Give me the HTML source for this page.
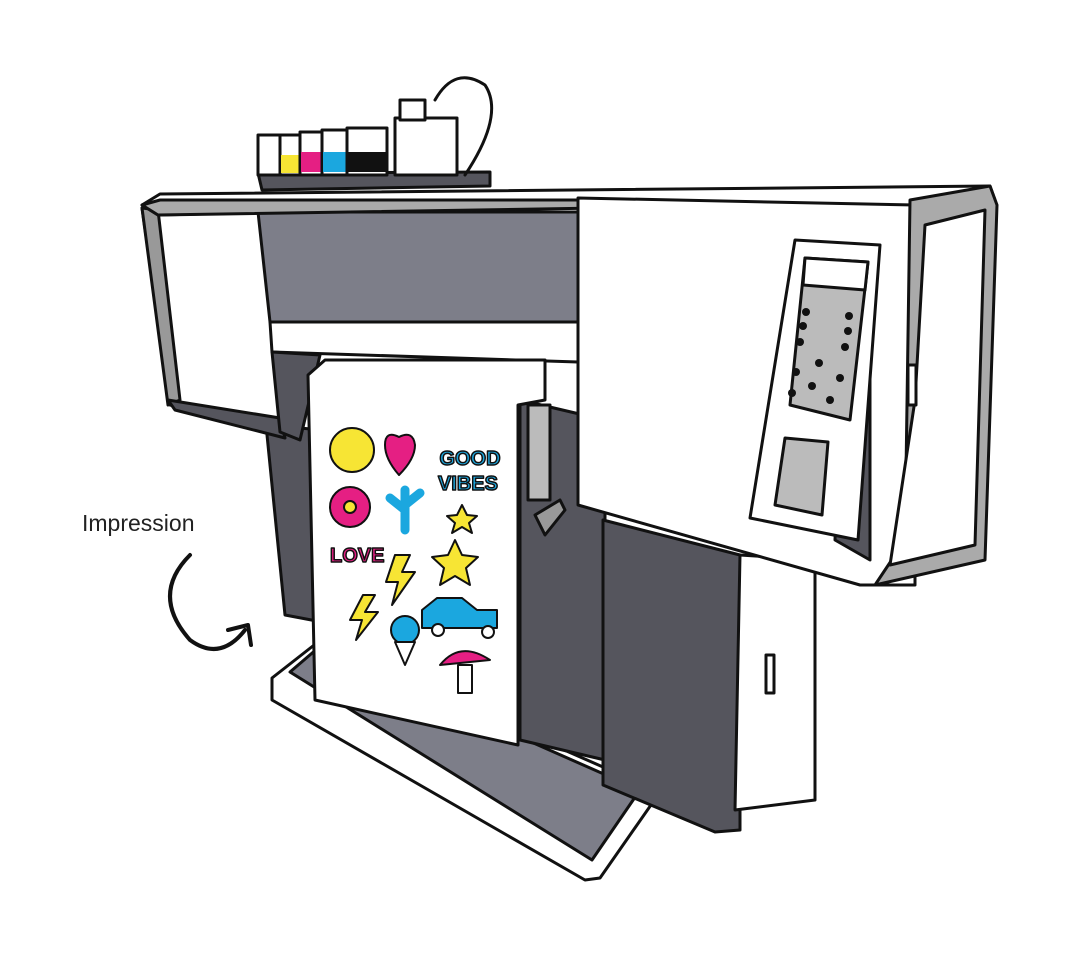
<!DOCTYPE html>
<html><head><style>body{margin:0;background:#fff}svg{display:block}</style></head><body>
<svg width="1082" height="959" viewBox="0 0 1082 959" xmlns="http://www.w3.org/2000/svg" stroke="#111" stroke-width="3" stroke-linejoin="round" stroke-linecap="round">
<!-- base tray -->
<polygon points="272,678 318,642 660,792 600,878 585,880 272,700" fill="#fff"/>
<polygon points="290,672 318,648 640,790 592,860" fill="#7d7e89"/>
<!-- left leg -->
<polygon points="266,425 322,430 322,622 285,615" fill="#55555d"/>
<!-- right inner shadow area -->
<polygon points="520,400 605,420 605,760 520,740" fill="#55555d"/>
<!-- right leg -->
<polygon points="603,520 740,555 740,830 715,832 603,785" fill="#55555d"/>
<polygon points="740,555 815,560 815,800 735,810" fill="#fff"/>
<rect x="766" y="655" width="8" height="38" fill="#fff"/>
<!-- left body -->
<polygon points="142,208 262,208 285,432 170,405" fill="#fff"/>
<polygon points="142,208 158,210 180,400 168,405" fill="#999"/>
<polygon points="168,400 280,418 285,438 175,410" fill="#55555d"/>
<!-- center top -->
<polygon points="258,212 578,212 578,322 270,322" fill="#7d7e89"/>
<polygon points="270,322 578,322 578,362 272,352" fill="#fff"/>
<polygon points="272,352 320,355 300,440 280,432" fill="#55555d"/>
<!-- top bar -->
<polygon points="142,205 160,194 990,186 995,200 920,205 600,205 158,215" fill="#fff"/>
<polygon points="142,205 158,215 600,208 598,200 160,200" fill="#aaa"/>
<!-- right body -->
<polygon points="578,198 915,205 915,585 860,585 578,505" fill="#fff"/>
<polygon points="840,420 870,300 870,560 835,540" fill="#55555d"/>
<polygon points="910,200 990,186 997,205 985,560 875,585 905,540" fill="#aaa"/>
<polygon points="925,225 985,210 975,545 890,565 915,400" fill="#fff"/>
<rect x="908" y="365" width="8" height="40" fill="#fff"/>
<!-- control panel -->
<polygon points="795,240 880,245 858,540 750,518" fill="#fff"/>
<polygon points="805,258 868,262 850,420 790,405" fill="#bbb"/>
<polygon points="805,258 868,262 865,290 803,285" fill="#fff"/>
<g fill="#111" stroke="none">
<circle cx="806" cy="312" r="4"/><circle cx="849" cy="316" r="4"/><circle cx="803" cy="326" r="4"/><circle cx="848" cy="331" r="4"/><circle cx="800" cy="342" r="4"/><circle cx="845" cy="347" r="4"/><circle cx="819" cy="363" r="4"/><circle cx="796" cy="372" r="4"/><circle cx="840" cy="378" r="4"/><circle cx="812" cy="386" r="4"/><circle cx="792" cy="393" r="4"/><circle cx="830" cy="400" r="4"/>
</g>
<polygon points="785,438 828,442 822,515 775,505" fill="#bbb"/>
<!-- roller / latch -->
<rect x="528" y="405" width="22" height="95" fill="#bbb"/>
<polygon points="535,515 560,500 565,510 545,535" fill="#999"/>
<!-- paper -->
<polygon points="308,375 325,360 545,360 545,400 518,405 518,745 315,700" fill="#fff"/>
<!-- stickers -->
<g stroke-width="2">
<circle cx="352" cy="450" r="22" fill="#f7e534"/>
<path d="M385,445 q0,-15 14,-8 q14,-7 16,8 q0,14 -16,30 q-14,-16 -14,-30z" fill="#e51f83"/>
<text x="470" y="465" font-family="Liberation Sans,sans-serif" font-weight="bold" font-size="20" fill="#1ba7df" stroke-width="1.5" text-anchor="middle">GOOD</text>
<text x="468" y="490" font-family="Liberation Sans,sans-serif" font-weight="bold" font-size="20" fill="#1ba7df" stroke-width="1.5" text-anchor="middle">VIBES</text>
<circle cx="350" cy="507" r="20" fill="#e51f83"/><circle cx="350" cy="507" r="6" fill="#f7e534"/>
<path d="M405,530 V490 M405,510 l-15,-12 M405,505 l15,-12" fill="none" stroke="#1ba7df" stroke-width="9"/>
<polygon points="462,505 467,515 477,516 469,523 472,533 462,527 452,533 455,523 447,516 457,515" fill="#f7e534"/>
<text x="330" y="562" font-family="Liberation Sans,sans-serif" font-weight="bold" font-size="20" fill="#e51f83" stroke-width="1.5">LOVE</text>
<polygon points="395,555 410,555 402,572 415,572 392,605 398,582 386,582" fill="#f7e534"/>
<polygon points="455,540 462,555 478,557 466,568 470,585 455,576 440,585 444,568 432,557 448,555" fill="#f7e534"/>
<polygon points="363,595 375,595 365,612 378,612 356,640 362,620 350,620" fill="#f7e534"/>
<path d="M422,610 l15,-12 h25 l15,12 h20 v18 h-75z" fill="#1ba7df"/>
<circle cx="438" cy="630" r="6" fill="#fff"/><circle cx="488" cy="632" r="6" fill="#fff"/>
<circle cx="405" cy="630" r="14" fill="#1ba7df"/><polygon points="395,642 415,642 405,665" fill="#fff"/>
<path d="M440,665 q20,-25 50,-5 z" fill="#e51f83"/><rect x="458" y="665" width="14" height="28" fill="#fff"/>
</g>
<!-- ink tanks -->
<polygon points="258,173 490,172 490,186 262,190" fill="#55555d"/>
<rect x="258" y="135" width="22" height="40" fill="#fff"/>
<rect x="280" y="135" width="20" height="40" fill="#fff"/><rect x="281" y="155" width="18" height="18" fill="#f7e534" stroke="none"/>
<rect x="300" y="132" width="22" height="43" fill="#fff"/><rect x="301" y="152" width="20" height="20" fill="#e51f83" stroke="none"/>
<rect x="322" y="130" width="25" height="45" fill="#fff"/><rect x="323" y="152" width="23" height="20" fill="#1ba7df" stroke="none"/>
<rect x="347" y="128" width="40" height="47" fill="#fff"/><rect x="348" y="152" width="38" height="20" fill="#111" stroke="none"/>
<rect x="395" y="118" width="62" height="57" fill="#fff"/>
<rect x="400" y="100" width="25" height="20" fill="#fff"/>
<path d="M435,100 q20,-35 50,-15 q20,30 -20,90" fill="none"/>
<!-- label -->
<text x="82" y="531" font-family="Liberation Sans,sans-serif" font-size="23" fill="#222" stroke="none">Impression</text>
<path d="M190,555 q-40,40 0,85 q30,22 55,-10" fill="none" stroke-width="4"/>
<path d="M228,630 l20,-5 l3,20" fill="none" stroke-width="4"/>
</svg>
</body></html>
